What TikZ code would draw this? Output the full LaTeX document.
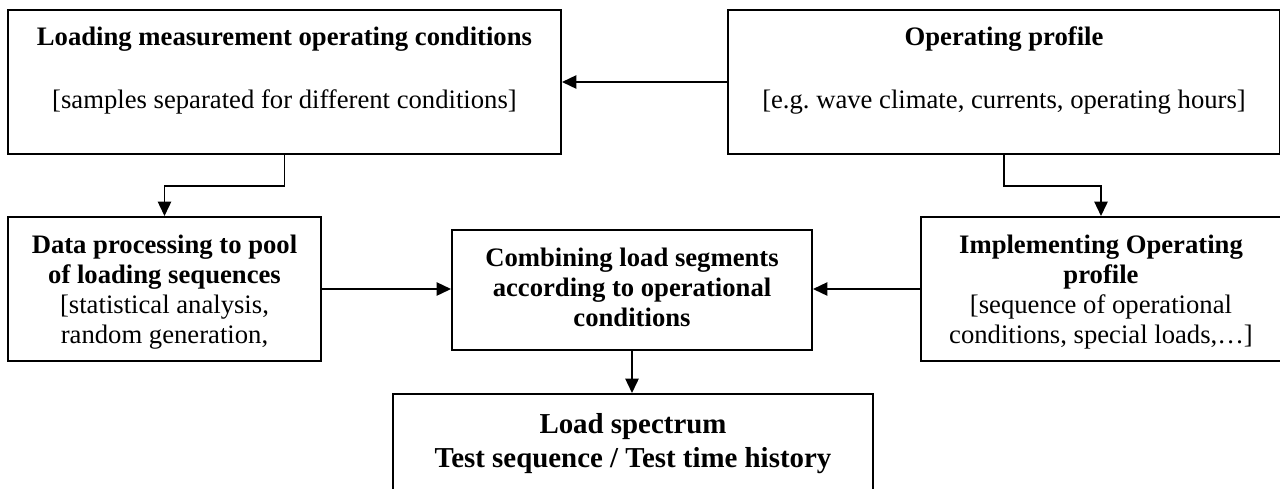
\documentclass[tikz,border=0pt]{standalone}
\usepackage{fontspec}
\setmainfont{Liberation Serif}
\usetikzlibrary{arrows.meta}

% invisible rules to set the text a little lower or higher in a box
\newcommand{\topfill}[1]{\rule{0pt}{#1}}
\newcommand{\botfill}[1]{\rule[-#1]{0pt}{0pt}}

\begin{document}
\begin{tikzpicture}[x=0.45pt, y=-0.45pt,
    box/.style={draw, line width=0.9pt, inner sep=0pt, align=center,
        font=\fontsize{12}{13.5}\selectfont},
    flow/.style={line width=0.8pt, -{Triangle[length=6.5pt, width=6pt]}}]
    \useasboundingbox (0,0) rectangle (1280,488);
    \clip (0,0) rectangle (1280,488);

    % Top row
    \node[box, minimum width=248.85pt, minimum height=64.8pt] (meas) at (284.5,82)
        {\topfill{13pt}\textbf{Loading measurement operating conditions}\\[14.85pt]
         {[}samples separated for different conditions]\\ \strut};
    \node[box, minimum width=248.4pt, minimum height=64.8pt] (prof) at (1004,82)
        {\topfill{13pt}\textbf{Operating profile}\\[14.85pt]
         {[}e.g.\ wave climate, currents, operating hours]\\ \strut};

    % Middle row
    \node[box, minimum width=140.85pt, minimum height=64.8pt] (pool) at (164.5,289)
        {\topfill{10.9pt}\textbf{Data processing to pool}\\ \textbf{of loading sequences}\\
         {[}statistical analysis,\\ random generation,};
    \node[box, minimum width=162pt, minimum height=54pt] (comb) at (632,290)
        {\textbf{Combining load segments}\\ \textbf{according to operational}\\
         \textbf{conditions}\botfill{2.3pt}};
    \node[box, minimum width=162pt, minimum height=64.8pt] (impl) at (1101,289)
        {\topfill{10.9pt}\textbf{Implementing Operating}\\ \textbf{profile}\\
         {[}sequence of operational\\ conditions, special loads,…]};

    % Bottom box (cut by the page edge)
    \node[box, minimum width=216pt, minimum height=56.7pt,
        font=\fontsize{13}{15.3}\selectfont\bfseries] (spec) at (633,457)
        {\topfill{14.3pt}Load spectrum\\ Test sequence / Test time history\\ \strut};

    % Connectors
    \draw[flow] (prof.west) -- (meas.east);
    \draw[flow] (meas.south) -- ++(0,31) -| (pool.north);
    \draw[flow] (prof.south) -- ++(0,31) -| (impl.north);
    \draw[flow] (pool.east) -- (pool.east -| comb.west);
    \draw[flow] (impl.west) -- (impl.west -| comb.east);
    \draw[flow] (comb.south) -- (comb.south |- spec.north);
\end{tikzpicture}
\end{document}
